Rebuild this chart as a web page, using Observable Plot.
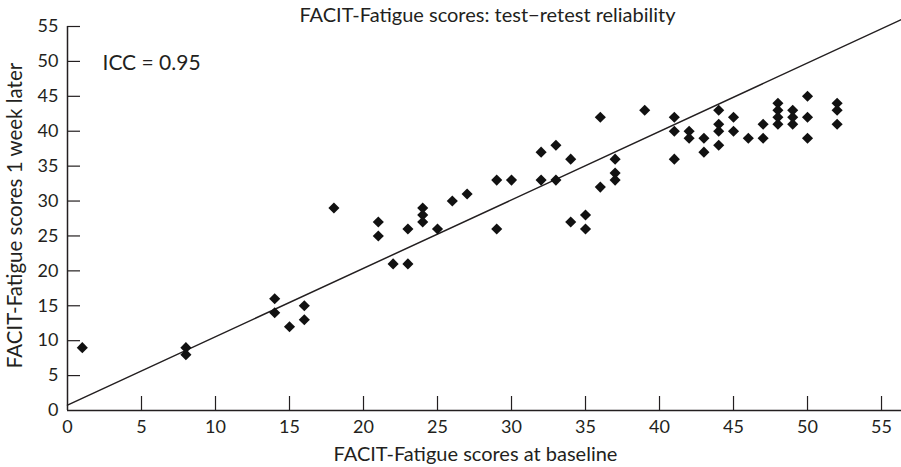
<!DOCTYPE html>
<html>
<head>
<meta charset="utf-8">
<script src="https://cdn.jsdelivr.net/npm/d3@7"></script>
<script src="https://cdn.jsdelivr.net/npm/@observablehq/plot@0.6"></script>
<style>
  html, body { margin: 0; padding: 0; background: #fff; }
  #chart svg { display: block; }
</style>
</head>
<body>
<div id="chart"></div>
<script>
// Data
const baseline = [1, 8, 8, 14, 14, 15, 16, 16, 18, 21, 21, 22, 23, 23, 24, 24, 24, 25, 26, 27,
  29, 29, 30, 32, 32, 33, 33, 34, 34, 35, 35, 36, 36, 37, 37, 37, 39,
  41, 41, 41, 42, 42, 43, 43, 44, 44, 44, 44, 45, 45, 46, 47, 47,
  48, 48, 48, 48, 49, 49, 49, 50, 50, 50, 52, 52, 52];
const weekLater = [9, 9, 8, 16, 14, 12, 15, 13, 29, 27, 25, 21, 26, 21, 29, 28, 27, 26, 30, 31,
  33, 26, 33, 37, 33, 38, 33, 36, 27, 28, 26, 42, 32, 36, 34, 33, 43,
  42, 40, 36, 40, 39, 39, 37, 43, 41, 40, 38, 42, 40, 39, 41, 39,
  44, 43, 42, 41, 43, 42, 41, 45, 42, 39, 44, 43, 41];
const fitLineX = [0, 56.35];
const fitLineY = [0.76, 56.0];
const xTicks = [0, 5, 10, 15, 20, 25, 30, 35, 40, 45, 50, 55];
const yTicks = [0, 5, 10, 15, 20, 25, 30, 35, 40, 45, 50, 55];
const titleText = "FACIT-Fatigue scores: test\u2212retest reliability";
const xLabel = "FACIT-Fatigue scores at baseline";
const yLabel = "FACIT-Fatigue scores 1 week later";
const iccText = "ICC = 0.95";

const points = baseline.map((x, i) => ({x, y: weekLater[i]}));
const fit = fitLineX.map((x, i) => ({x, y: fitLineY[i]}));

const W = 901, H = 467, mL = 67, mR = 0, mT = 26, mB = 57;
const ink = "#231f20";
const font = "Lato, 'Noto Sans', sans-serif";

const chart = Plot.plot({
  width: W,
  height: H,
  marginLeft: mL,
  marginRight: mR,
  marginTop: mT,
  marginBottom: mB,
  style: {fontFamily: font, fontSize: "18px", color: ink, background: "#fff", overflow: "visible"},
  x: {domain: [0, 56.35], ticks: xTicks, tickFormat: d => String(d)},
  y: {domain: [0, 55], ticks: yTicks, tickFormat: d => String(d)},
  marks: [
    Plot.axisX(xTicks, {tickSize: 0, tickPadding: 10, fontSize: 18, fill: ink, label: null}),
    Plot.axisY(yTicks, {tickSize: 0, tickPadding: 9, fontSize: 18, fill: ink, label: null}),
    // inward ticks
    Plot.tickX(xTicks.filter(d => d > 0), {x: d => d, stroke: ink, strokeWidth: 1.2, insetTop: (H - mT - mB) - 14}),
    Plot.tickY(yTicks.filter(d => d > 0), {y: d => d, stroke: ink, strokeWidth: 1.2, insetRight: (W - mL - mR) - 13}),
    Plot.ruleY([0], {stroke: ink, strokeWidth: 1.5}),
    Plot.ruleX([0], {stroke: ink, strokeWidth: 1.5}),
    Plot.line(fit, {x: "x", y: "y", stroke: ink, strokeWidth: 1.5}),
    Plot.dot(points, {x: "x", y: "y", symbol: "diamond2", r: 5, fill: "#111", stroke: "none"}),
    Plot.text([iccText], {frameAnchor: "top-left", dx: 35, dy: 29, text: d => d, fontSize: 21, fill: ink, textAnchor: "start"}),
    Plot.text([titleText], {frameAnchor: "top", dx: 3, dy: -19, text: d => d, fontSize: 20, fill: ink, textAnchor: "middle"}),
    Plot.text([xLabel], {frameAnchor: "bottom", dx: -9, dy: 50, text: d => d, fontSize: 20, fill: ink, textAnchor: "middle"}),
    Plot.text([yLabel], {frameAnchor: "left", dx: -52, dy: -3, rotate: -90, text: d => d, fontSize: 20.5, fill: ink, textAnchor: "middle"})
  ]
});
document.getElementById("chart").appendChild(chart);
</script>
</body>
</html>
